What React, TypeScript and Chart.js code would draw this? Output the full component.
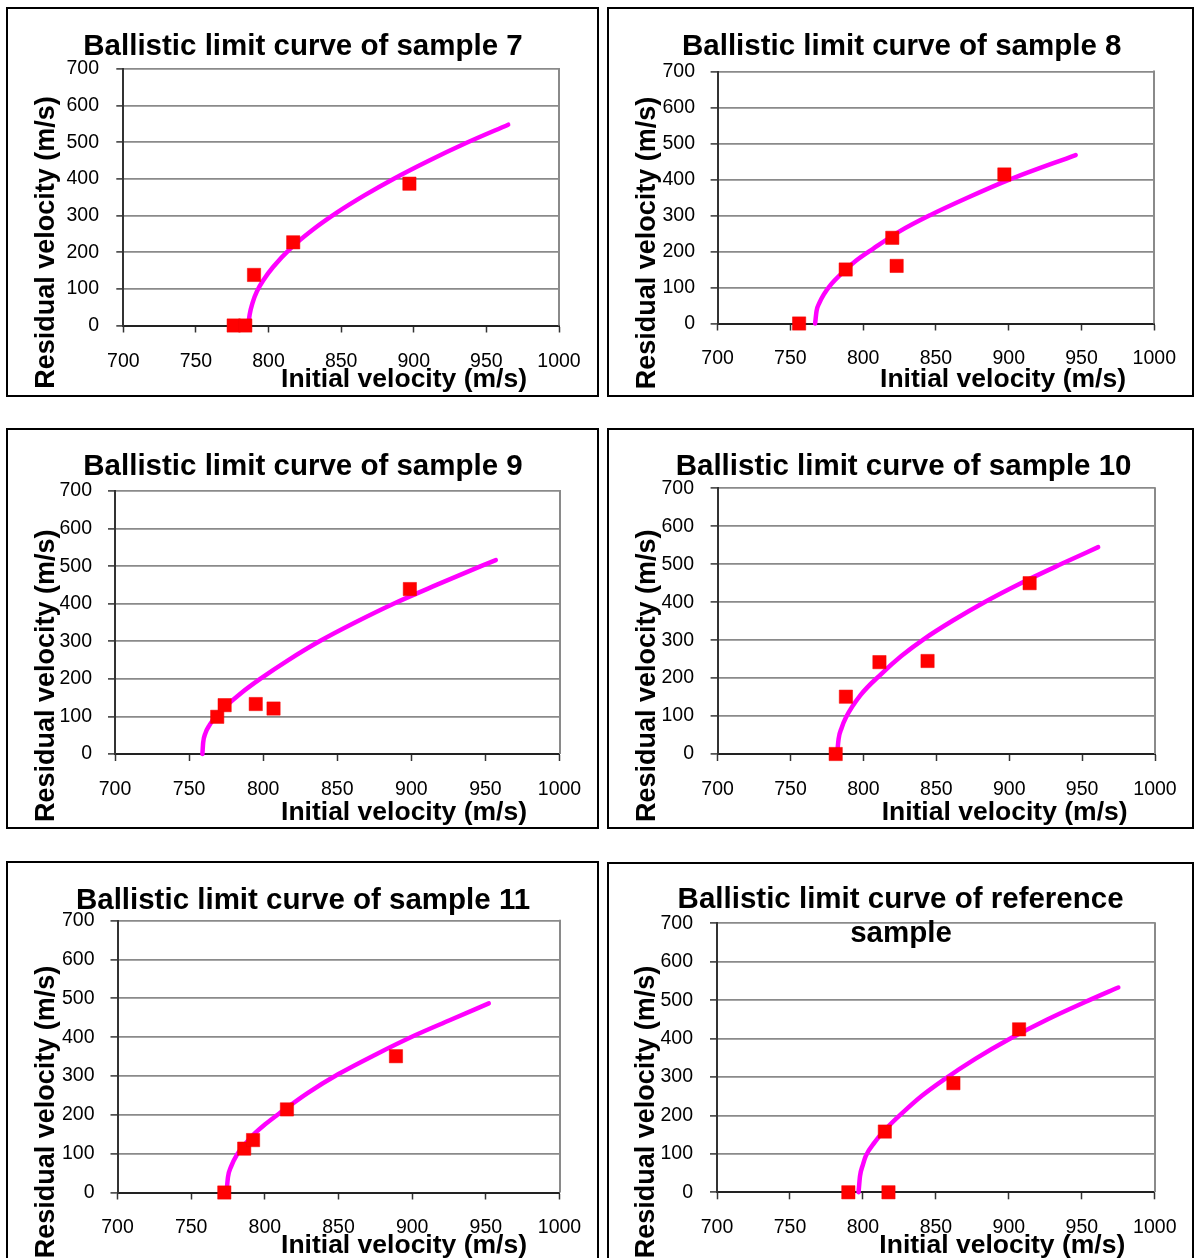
import React, { useEffect, useRef } from "react";
import { Chart, registerables } from "chart.js";

Chart.register(...registerables);

// ---------- DATA ----------
const xTickValues = [700, 750, 800, 850, 900, 950, 1000];
const yTickValues = [0, 100, 200, 300, 400, 500, 600, 700];
const xAxisTitle = "Initial velocity (m/s)";
const yAxisTitle = "Residual velocity (m/s)";

const title7 = ["Ballistic limit curve of sample 7"];
const s7Vi = [776, 784, 790, 817, 897];
const s7Vr = [0, 0, 138, 227, 387];
const s7CurveVi = [786, 787, 789, 792, 797, 803, 815, 830, 847, 866, 886, 910, 936, 965];
const s7CurveVr = [0, 30, 62, 93, 127, 159, 210, 260, 308, 355, 400, 449, 498, 548];

const title8 = ["Ballistic limit curve of sample 8"];
const s8Vi = [756, 788, 820, 823, 897];
const s8Vr = [0, 150, 238, 160, 414];
const s8CurveVi = [767, 768, 770, 773, 777, 785, 795, 807, 825, 846, 872, 900, 946];
const s8CurveVr = [0, 35, 58, 81, 104, 138, 174, 208, 256, 301, 350, 399, 468];

const title9 = ["Ballistic limit curve of sample 9"];
const s9Vi = [769, 774, 795, 807, 899];
const s9Vr = [99, 130, 133, 121, 439];
const s9CurveVi = [759, 759.5, 761, 764, 768, 775, 785, 798, 817, 838, 862, 888, 917, 947, 957];
const s9CurveVr = [0, 30, 55, 78, 100, 128, 162, 200, 250, 300, 350, 400, 450, 500, 516];

const title10 = ["Ballistic limit curve of sample 10"];
const s10Vi = [781, 788, 811, 844, 914];
const s10Vr = [0, 151, 242, 245, 450];
const s10CurveVi = [782, 783, 785, 788, 798, 812, 826, 842, 862, 883, 908, 936, 961];
const s10CurveVr = [0, 40, 68, 96, 155, 210, 258, 304, 353, 400, 450, 501, 545];

const title11 = ["Ballistic limit curve of sample 11"];
const s11Vi = [772.5, 786, 792, 815, 889];
const s11Vr = [0, 113, 135, 214, 351];
const s11CurveVi = [774, 775, 777, 781, 786, 792, 800, 811, 829, 850, 875, 902, 925, 952];
const s11CurveVr = [0, 40, 66, 97, 122, 148, 175, 207, 256, 305, 355, 405, 443, 487];

const titleRef = ["Ballistic limit curve of reference", "sample"];
const sRefVi = [790, 817.5, 815, 862, 907];
const sRefVr = [0, 0, 158, 284, 424];
const sRefCurveVi = [797, 798, 800, 802, 808, 815, 828, 840, 855, 877, 901, 926, 954, 975];
const sRefCurveVr = [0, 42, 72, 95, 130, 162, 210, 250, 292, 347, 400, 449, 498, 533];

// ---------- LAYOUT (page pixel coordinates) ----------
type Box = { x: number; y: number; w: number; h: number };
type Plot = { l: number; t: number; r: number; b: number };
type Pt = { x: number; y: number };
type Layout = {
  box: Box;
  plot: Plot;
  titlePos: Pt[];
  xTitle: Pt;
  yTitle: Pt;
  yLabelRight: number;
  xLabelCenter: number;
};

const layouts: Layout[] = [
  {
    box: { x: 6, y: 7, w: 593, h: 390 },
    plot: { l: 123.3, t: 69, r: 559, b: 325.5 },
    titlePos: [{ x: 303, y: 55 }],
    xTitle: { x: 404, y: 386.7 },
    yTitle: { x: 53.5, y: 242.5 },
    yLabelRight: 99,
    xLabelCenter: 362,
  },
  {
    box: { x: 607, y: 7, w: 587, h: 390 },
    plot: { l: 717.6, t: 71.5, r: 1154.3, b: 323.5 },
    titlePos: [{ x: 901.7, y: 55 }],
    xTitle: { x: 1003, y: 386.7 },
    yTitle: { x: 655, y: 243 },
    yLabelRight: 695,
    xLabelCenter: 359,
  },
  {
    box: { x: 6, y: 428, w: 593, h: 401 },
    plot: { l: 115, t: 491, r: 559.5, b: 754 },
    titlePos: [{ x: 303, y: 475 }],
    xTitle: { x: 404, y: 820 },
    yTitle: { x: 53.6, y: 675.8 },
    yLabelRight: 92,
    xLabelCenter: 790,
  },
  {
    box: { x: 607, y: 428, w: 587, h: 401 },
    plot: { l: 717.6, t: 488.3, r: 1158.6, b: 754 },
    titlePos: [{ x: 903.6, y: 475 }],
    xTitle: { x: 1004.6, y: 820 },
    yTitle: { x: 654.5, y: 675.8 },
    yLabelRight: 694,
    xLabelCenter: 790,
  },
  {
    box: { x: 6, y: 861, w: 593, h: 420 },
    plot: { l: 117.5, t: 920.7, r: 559.5, b: 1192.5 },
    titlePos: [{ x: 303, y: 909.3 }],
    xTitle: { x: 404, y: 1253.3 },
    yTitle: { x: 53.5, y: 1112 },
    yLabelRight: 94.5,
    xLabelCenter: 1228,
  },
  {
    box: { x: 607, y: 862, w: 587, h: 420 },
    plot: { l: 717, t: 923.3, r: 1154.8, b: 1192.3 },
    titlePos: [
      { x: 900.6, y: 908.3 },
      { x: 901, y: 941.7 },
    ],
    xTitle: { x: 1002.3, y: 1253.3 },
    yTitle: { x: 654, y: 1112 },
    yLabelRight: 693,
    xLabelCenter: 1228,
  },
];

type Series = {
  title: string[];
  vi: number[];
  vr: number[];
  cvi: number[];
  cvr: number[];
};

const series: Series[] = [
  { title: title7, vi: s7Vi, vr: s7Vr, cvi: s7CurveVi, cvr: s7CurveVr },
  { title: title8, vi: s8Vi, vr: s8Vr, cvi: s8CurveVi, cvr: s8CurveVr },
  { title: title9, vi: s9Vi, vr: s9Vr, cvi: s9CurveVi, cvr: s9CurveVr },
  { title: title10, vi: s10Vi, vr: s10Vr, cvi: s10CurveVi, cvr: s10CurveVr },
  { title: title11, vi: s11Vi, vr: s11Vr, cvi: s11CurveVi, cvr: s11CurveVr },
  { title: titleRef, vi: sRefVi, vr: sRefVr, cvi: sRefCurveVi, cvr: sRefCurveVr },
];

const FONT = '"Liberation Sans", Arial, Helvetica, sans-serif';
const TICK_SIZE = 19.5;
const TICK_LEN = 7;
const X_SCALE_H = 60;

const panelTextPlugin = {
  id: "panelText",
  afterDraw(chart: any, _args: any, opts: any) {
    const ctx: CanvasRenderingContext2D = chart.ctx;
    const { box, lines, xTitle, yTitle } = opts;
    ctx.save();
    ctx.fillStyle = "#000";
    ctx.textAlign = "center";
    ctx.textBaseline = "alphabetic";
    ctx.font = `bold 29.5px ${FONT}`;
    lines.forEach((l: any) => ctx.fillText(l.text, l.x - box.x, l.y - box.y));
    ctx.font = `bold 26.5px ${FONT}`;
    ctx.fillText(xAxisTitle, xTitle.x - box.x, xTitle.y - box.y);
    ctx.translate(yTitle.x - box.x, yTitle.y - box.y);
    ctx.rotate(-Math.PI / 2);
    ctx.font = `bold 27px ${FONT}`;
    ctx.fillText(yAxisTitle, 0, 0);
    ctx.restore();
  },
};

const rightBorderPlugin = {
  id: "rightBorder",
  beforeDatasetsDraw(chart: any) {
    const { ctx, chartArea } = chart;
    ctx.save();
    ctx.strokeStyle = "#8a8a8a";
    ctx.lineWidth = 2;
    ctx.beginPath();
    ctx.moveTo(Math.round(chartArea.right), chartArea.top - 1);
    ctx.lineTo(Math.round(chartArea.right), chartArea.bottom);
    ctx.stroke();
    ctx.restore();
  },
};

function Panel({ layout, data }: { layout: Layout; data: Series }) {
  const ref = useRef<HTMLCanvasElement | null>(null);
  const { box, plot } = layout;

  useEffect(() => {
    if (!ref.current) return;
    const yPad = plot.l - TICK_LEN - layout.yLabelRight;
    const xPad = layout.xLabelCenter - plot.b - TICK_LEN - (TICK_SIZE * 1.2) / 2;
    const yScaleW = plot.l - box.x;
    const padTop = plot.t - box.y;
    const padRight = box.x + box.w - plot.r;
    const padBottom = box.y + box.h - plot.b - X_SCALE_H;

    const markers = data.vi.map((v, i) => ({ x: v, y: data.vr[i] }));
    const curve = data.cvi.map((v, i) => ({ x: v, y: data.cvr[i] }));
    const lines = data.title.map((t, i) => ({
      text: t,
      x: layout.titlePos[i].x,
      y: layout.titlePos[i].y,
    }));

    const chart = new Chart(ref.current, {
      type: "scatter",
      data: {
        datasets: [
          {
            data: markers,
            pointStyle: "rect",
            pointRadius: 9.4,
            pointHoverRadius: 9.4,
            pointBackgroundColor: "#ff0000",
            pointBorderColor: "#f00000",
            pointBorderWidth: 0.5,
            showLine: false,
            clip: false,
            order: 0,
          } as any,
          {
            data: curve,
            showLine: true,
            borderColor: "#ff00ff",
            borderWidth: 4.5,
            pointRadius: 0,
            pointHoverRadius: 0,
            cubicInterpolationMode: "monotone",
            fill: false,
            clip: false,
            borderCapStyle: "round",
            borderJoinStyle: "round",
            order: 1,
          } as any,
        ],
      },
      options: {
        responsive: false,
        animation: false,
        devicePixelRatio: 1,
        events: [],
        layout: {
          padding: { left: 0, top: padTop, right: padRight, bottom: padBottom },
        },
        plugins: {
          legend: { display: false },
          tooltip: { enabled: false },
          title: { display: false },
          panelText: { box, lines, xTitle: layout.xTitle, yTitle: layout.yTitle },
        } as any,
        scales: {
          x: {
            type: "linear",
            min: 700,
            max: 1000,
            afterBuildTicks: (s: any) => {
              s.ticks = xTickValues.map((v) => ({ value: v }));
            },
            afterFit: (s: any) => {
              s.height = X_SCALE_H;
            },
            ticks: {
              font: { family: FONT, size: TICK_SIZE, lineHeight: 1.2 },
              color: "#000",
              padding: xPad,
              maxRotation: 0,
              minRotation: 0,
              autoSkip: false,
              callback: (v: any) => String(v),
            },
            grid: {
              drawOnChartArea: false,
              drawTicks: true,
              tickLength: TICK_LEN,
              tickColor: "#333",
              tickWidth: 1.5,
            },
            border: { display: true, color: "#222", width: 2 },
          },
          y: {
            type: "linear",
            min: 0,
            max: 700,
            afterBuildTicks: (s: any) => {
              s.ticks = yTickValues.map((v) => ({ value: v }));
            },
            afterFit: (s: any) => {
              s.width = yScaleW;
            },
            ticks: {
              font: { family: FONT, size: TICK_SIZE, lineHeight: 1.2 },
              color: "#000",
              padding: yPad,
              callback: (v: any) => String(v),
            },
            grid: {
              color: (c: any) =>
                c.tick && c.tick.value === 0 ? "rgba(0,0,0,0)" : "#8a8a8a",
              lineWidth: 1.8,
              drawTicks: true,
              tickLength: TICK_LEN,
              tickColor: "#333",
              tickWidth: 1.5,
            },
            border: { display: true, color: "#333", width: 2 },
          },
        },
      },
      plugins: [rightBorderPlugin, panelTextPlugin],
    } as any);

    return () => chart.destroy();
  }, []);

  return (
    <>
      <canvas
        ref={ref}
        width={box.w}
        height={box.h}
        style={{
          position: "absolute",
          left: box.x,
          top: box.y,
          width: box.w,
          height: box.h,
        }}
      />
      <div
        style={{
          position: "absolute",
          left: box.x,
          top: box.y,
          width: box.w,
          height: box.h,
          border: "2px solid #000",
          boxSizing: "border-box",
          pointerEvents: "none",
        }}
      />
    </>
  );
}

export default function App() {
  return (
    <div
      style={{
        position: "absolute",
        left: 0,
        top: 0,
        width: 1195,
        height: 1258,
        overflow: "hidden",
        background: "#fff",
      }}
    >
      {layouts.map((l, i) => (
        <Panel key={i} layout={l} data={series[i]} />
      ))}
    </div>
  );
}
